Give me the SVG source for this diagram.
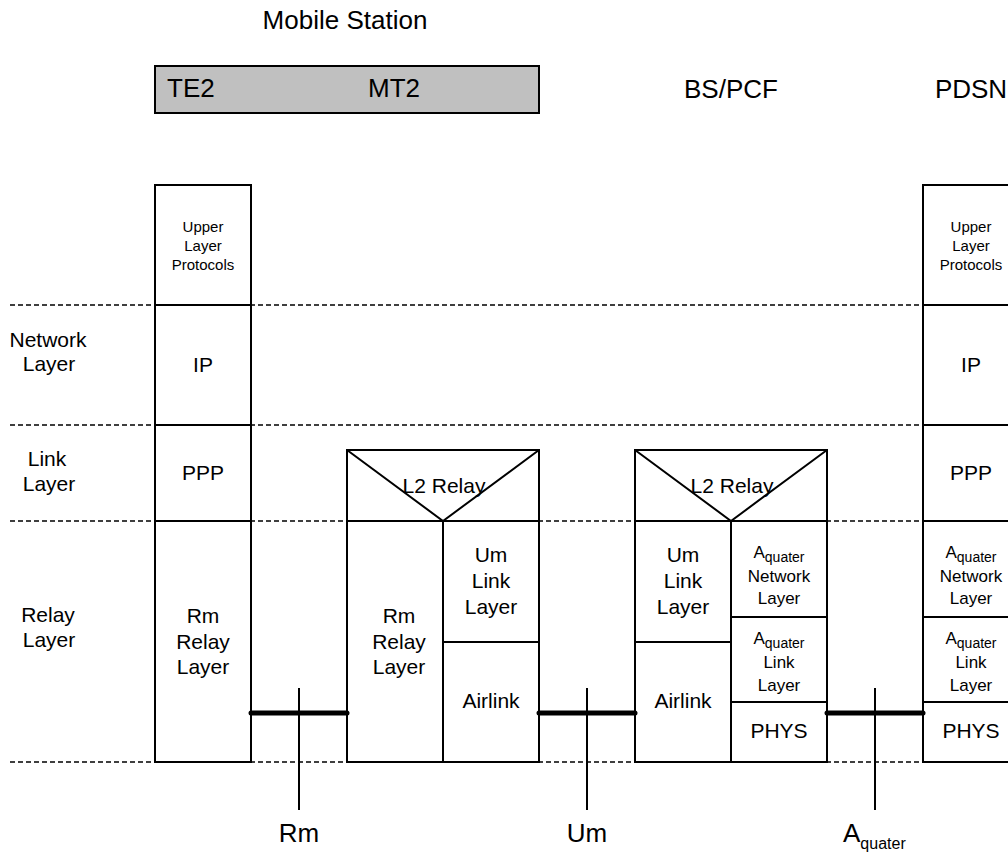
<svg xmlns="http://www.w3.org/2000/svg" width="1008" height="854" viewBox="0 0 1008 854">
<style>
text{font-family:"Liberation Sans",Arial,sans-serif;fill:#000}
.big{font-size:26px}
.md{font-size:21px;text-anchor:middle}
.sm{font-size:15px;text-anchor:middle}
.aq{font-size:17px;text-anchor:middle}
.box{fill:#fff;stroke:#000;stroke-width:2}
.ln{stroke:#000;stroke-width:2;fill:none}
.dash{stroke:#000;stroke-width:1.5;stroke-dasharray:5 3;fill:none}
.thick{stroke:#000;stroke-width:5;stroke-linecap:round}
</style>
<rect width="1008" height="854" fill="#fff"/>
<g id="layer-lines">
<line class="dash" x1="10" y1="305" x2="1008" y2="305"/>
<line class="dash" x1="10" y1="425" x2="1008" y2="425"/>
<line class="dash" x1="10" y1="521" x2="1008" y2="521"/>
<line class="dash" x1="10" y1="762" x2="1008" y2="762"/>
</g>
<g id="layer-labels">
<text class="md" x="48" y="347">Network</text>
<text class="md" x="49" y="371">Layer</text>
<text class="md" x="47" y="466">Link</text>
<text class="md" x="49" y="491">Layer</text>
<text class="md" x="48" y="622">Relay</text>
<text class="md" x="49" y="647">Layer</text>
</g>
<g id="headers">
<text class="big" x="345" y="29" text-anchor="middle" font-size="27">Mobile Station</text>
<rect x="155" y="66" width="384" height="47" fill="#c0c0c0" stroke="#000" stroke-width="2"/>
<text class="big" x="167" y="97">TE2</text>
<text class="big" x="368" y="97">MT2</text>
<text class="big" x="731" y="98" text-anchor="middle">BS/PCF</text>
<text class="big" x="971" y="98" text-anchor="middle">PDSN</text>
</g>
<g id="te2">
<rect class="box" x="155" y="185" width="96" height="577"/>
<line class="ln" x1="155" y1="305" x2="251" y2="305"/>
<line class="ln" x1="155" y1="425" x2="251" y2="425"/>
<line class="ln" x1="155" y1="521" x2="251" y2="521"/>
<text class="sm" x="203" y="232">Upper</text>
<text class="sm" x="203" y="251">Layer</text>
<text class="sm" x="203" y="270">Protocols</text>
<text class="md" x="203" y="372">IP</text>
<text class="md" x="203" y="480">PPP</text>
<text class="md" x="203" y="623">Rm</text>
<text class="md" x="203" y="649">Relay</text>
<text class="md" x="203" y="674">Layer</text>
</g>
<g id="mt2">
<rect class="box" x="347" y="450" width="192" height="312"/>
<polyline class="ln" points="347,450 443,521 539,450"/>
<line class="ln" x1="347" y1="521" x2="539" y2="521"/>
<line class="ln" x1="443" y1="521" x2="443" y2="762"/>
<line class="ln" x1="443" y1="642" x2="539" y2="642"/>
<text class="md" x="444" y="493">L2 Relay</text>
<text class="md" x="399" y="623">Rm</text>
<text class="md" x="399" y="649">Relay</text>
<text class="md" x="399" y="674">Layer</text>
<text class="md" x="491" y="562">Um</text>
<text class="md" x="491" y="588">Link</text>
<text class="md" x="491" y="614">Layer</text>
<text class="md" x="491" y="708">Airlink</text>
</g>
<g id="bspcf">
<rect class="box" x="635" y="450" width="192" height="312"/>
<polyline class="ln" points="635,450 731,521 827,450"/>
<line class="ln" x1="635" y1="521" x2="827" y2="521"/>
<line class="ln" x1="731" y1="521" x2="731" y2="762"/>
<line class="ln" x1="635" y1="642" x2="731" y2="642"/>
<line class="ln" x1="731" y1="617" x2="827" y2="617"/>
<line class="ln" x1="731" y1="702" x2="827" y2="702"/>
<text class="md" x="732" y="493">L2 Relay</text>
<text class="md" x="683" y="562">Um</text>
<text class="md" x="683" y="588">Link</text>
<text class="md" x="683" y="614">Layer</text>
<text class="md" x="683" y="708">Airlink</text>
<text class="aq" x="779" y="558" font-size="19">A<tspan font-size="14" dy="4">quater</tspan></text>
<text class="aq" x="779" y="582">Network</text>
<text class="aq" x="779" y="604">Layer</text>
<text class="aq" x="779" y="644" font-size="19">A<tspan font-size="14" dy="4">quater</tspan></text>
<text class="aq" x="779" y="668">Link</text>
<text class="aq" x="779" y="691">Layer</text>
<text class="md" x="779" y="738">PHYS</text>
</g>
<g id="pdsn">
<rect class="box" x="923" y="185" width="100" height="577"/>
<line class="ln" x1="923" y1="305" x2="1008" y2="305"/>
<line class="ln" x1="923" y1="425" x2="1008" y2="425"/>
<line class="ln" x1="923" y1="521" x2="1008" y2="521"/>
<line class="ln" x1="923" y1="617" x2="1008" y2="617"/>
<line class="ln" x1="923" y1="702" x2="1008" y2="702"/>
<text class="sm" x="971" y="232">Upper</text>
<text class="sm" x="971" y="251">Layer</text>
<text class="sm" x="971" y="270">Protocols</text>
<text class="md" x="971" y="372">IP</text>
<text class="md" x="971" y="480">PPP</text>
<text class="aq" x="971" y="558" font-size="19">A<tspan font-size="14" dy="4">quater</tspan></text>
<text class="aq" x="971" y="582">Network</text>
<text class="aq" x="971" y="604">Layer</text>
<text class="aq" x="971" y="644" font-size="19">A<tspan font-size="14" dy="4">quater</tspan></text>
<text class="aq" x="971" y="668">Link</text>
<text class="aq" x="971" y="691">Layer</text>
<text class="md" x="971" y="738">PHYS</text>
</g>
<g id="connectors">
<line class="thick" x1="251" y1="713" x2="347" y2="713"/>
<line class="thick" x1="539" y1="713" x2="635" y2="713"/>
<line class="thick" x1="827" y1="713" x2="923" y2="713"/>
<line class="ln" x1="299" y1="688" x2="299" y2="810"/>
<line class="ln" x1="587" y1="688" x2="587" y2="810"/>
<line class="ln" x1="875" y1="688" x2="875" y2="810"/>
</g>
<g id="interface-labels">
<text class="big" x="299" y="842" text-anchor="middle">Rm</text>
<text class="big" x="587" y="842" text-anchor="middle">Um</text>
<text class="big" x="843" y="842">A<tspan font-size="16" dy="7">quater</tspan></text>
</g>
</svg>
